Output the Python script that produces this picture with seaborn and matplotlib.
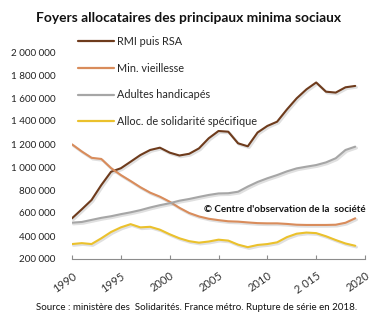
import matplotlib
matplotlib.use("Agg")
import matplotlib.pyplot as plt
import matplotlib.patheffects as pe
from matplotlib.ticker import FuncFormatter, FixedLocator
import numpy as np
import pandas as pd
import seaborn as sns

years = list(range(1990, 2020))

rmi_rsa = [554, 632, 713, 843, 959, 989, 1046, 1104, 1148, 1168,
           1125, 1100, 1115, 1162, 1250, 1313, 1307, 1206, 1180, 1300,
           1357, 1394, 1500, 1597, 1675, 1735, 1655, 1647, 1693, 1705]
min_vieillesse = [1197, 1135, 1080, 1070, 990, 930, 878, 824, 777, 742,
                  698, 645, 600, 570, 550, 538, 528, 525, 518, 512,
                  510, 510, 505, 498, 496, 496, 496, 498, 515, 554]
adultes_handicapes = [516, 522, 540, 558, 572, 590, 606, 625, 648, 668,
                      685, 707, 722, 740, 757, 770, 772, 785, 830, 870,
                      902, 930, 962, 988, 1003, 1017, 1040, 1076, 1148, 1177]
ass = [330, 338, 330, 380, 435, 475, 503, 475, 480, 455,
       415, 380, 355, 342, 352, 368, 360, 325, 303, 322,
       330, 345, 390, 420, 430, 425, 398, 365, 335, 315]

series_names = ["RMI puis RSA", "Min. vieillesse", "Adultes handicapés",
                "Alloc. de solidarité spécifique"]
series_values = [rmi_rsa, min_vieillesse, adultes_handicapes, ass]
colors = ["#6E3B1C", "#D98C5B", "#A6A6A6", "#EBC12C"]

x_ticks = [1990, 1995, 2000, 2005, 2010, 2015, 2020]
x_tick_labels = ["1990", "1995", "2000", "2005", "2010", "2 015", "2020"]
y_ticks = [200000, 400000, 600000, 800000, 1000000, 1200000, 1400000,
           1600000, 1800000, 2000000]

df = pd.concat([
    pd.DataFrame({"Année": years,
                  "Foyers": np.array(vals) * 1000,
                  "Série": name})
    for name, vals in zip(series_names, series_values)
], ignore_index=True)

sns.set_theme(style="white")
plt.rcParams["font.family"] = ["Lato", "DejaVu Sans"]

fig = plt.figure(figsize=(3.77, 3.28), dpi=100)
ax = fig.add_axes([72 / 377, 1 - 259 / 328, 293 / 377, 207 / 328])

sns.lineplot(data=df, x="Année", y="Foyers", hue="Série",
             hue_order=series_names, palette=colors, linewidth=1.5,
             ax=ax, legend=False)

shadow = [pe.SimpleLineShadow(offset=(1.0, -1.0), shadow_color="#999999",
                              alpha=0.3, linewidth=2.0), pe.Normal()]
for line in ax.get_lines():
    line.set_path_effects(shadow)
    line.set_solid_capstyle("round")
    line.set_solid_joinstyle("round")

ax.set_xlim(1990, 2020)
ax.set_ylim(200000, 2000000)
ax.set_xlabel("")
ax.set_ylabel("")

for side in ["top", "right", "left"]:
    ax.spines[side].set_visible(False)
ax.spines["bottom"].set_color("#8C8C8C")
ax.spines["bottom"].set_linewidth(0.8)

ax.xaxis.set_major_locator(FixedLocator(x_ticks))
ax.set_xticklabels(x_tick_labels, rotation=35, ha="right",
                   rotation_mode="anchor", fontsize=8, color="#333333")
ax.tick_params(axis="x", direction="in", length=3, width=0.8,
               color="#8C8C8C", pad=8, bottom=True)

ax.yaxis.set_major_locator(FixedLocator(y_ticks))
ax.yaxis.set_major_formatter(
    FuncFormatter(lambda v, _: f"{int(v):,}".replace(",", " ")))
ax.tick_params(axis="y", length=0, pad=12, labelsize=7.1,
               labelcolor="#222222")

handles = [plt.Line2D([], [], color=c, linewidth=1.6) for c in colors]
fig.legend(handles, series_names, loc="upper left",
           bbox_to_anchor=(78 / 377, 1 - 36 / 328), frameon=False,
           fontsize=7.8, handlelength=3.3, handletextpad=0.3,
           labelspacing=1.45, borderaxespad=0, borderpad=0)

fig.text(188 / 377, 1 - 18 / 328,
         "Foyers allocataires des principaux minima sociaux",
         ha="center", va="center", fontsize=9.9, fontweight="bold",
         color="#111111")
ax.text(366 / 377, 1 - 209 / 328,
        "© Centre d'observation de la  société",
        transform=fig.transFigure, ha="right", va="center",
        fontsize=7.0, fontweight="bold", color="#111111")
fig.text(197 / 377, 1 - 308 / 328,
         "Source : ministère des  Solidarités. France métro. Rupture de série en 2018.",
         ha="center", va="center", fontsize=7.0, color="#111111")

fig.savefig("out.png", dpi=100)
